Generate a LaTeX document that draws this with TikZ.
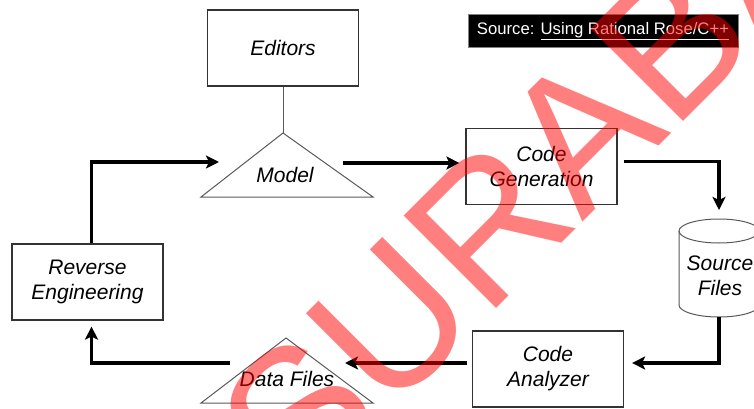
\documentclass[tikz,border=0pt]{standalone}
\usepackage{fontspec}
\setmainfont{Liberation Sans}
\usetikzlibrary{arrows.meta,positioning}

\begin{document}
\begin{tikzpicture}[x=1pt,y=-1pt]
\useasboundingbox (0,0) rectangle (754,409);

\begin{scope}[every node/.style={rectangle,draw=black!80,line width=1.2pt,
              minimum width=151pt,minimum height=76pt,align=center,
              font=\itshape\fontsize{21}{25}\selectfont}]
    \node (editors) at (283,48) {Editors};
    \node (codegen) at (541.5,166.5) {Code\\Generation};
    \node (reveng) at (87.5,282) {Reverse\\Engineering};
    \node (codean) at (548,369) {Code\\Analyzer};
\end{scope}

% triangles and the cylinder
\begin{scope}[draw=black!65,line width=1pt]
    \coordinate (mtop) at (283,133);
    \coordinate (dtop) at (286,338);
    \coordinate (stop) at (719,219);
    \coordinate (sbot) at (719,317);
    \draw (mtop) -- ++(-82,64) -- ++(172,0) -- cycle;
    \draw (dtop) -- ++(-85,65) -- ++(172,0) -- cycle;
    \draw (719,231) ellipse [x radius=40,y radius=12];
    \draw (679,231) -- (679,305) arc [start angle=180,end angle=0,x radius=40,y radius=12] -- (759,231);
    \draw (editors) -- (mtop);
\end{scope}

\begin{scope}[every node/.style={align=center,font=\itshape\fontsize{21}{25}\selectfont}]
    \node (model) at (285,175) {Model};
    \node (datafiles) at (287,379) {Data Files};
    \node (srcfiles) at (720,276) {Source\\Files};
\end{scope}

\node[fill=black,draw=black!50,line width=1pt,text=white,minimum width=270pt,
      minimum height=33pt,font=\fontsize{16.7}{20}\selectfont] (source) at (603,31.5)
      {Source: \underline{Using Rational Rose/C++}};

\begin{scope}[>={Stealth[length=13pt,width=13pt,inset=3pt]},line width=3.6pt]
    \coordinate (min) at (219,162);
    \coordinate (mout) at (343,163);
    \coordinate (din) at (345,363);
    \coordinate (dout) at (230,363);
    \draw[->] ([xshift=4pt]reveng.north) |- (min);
    \draw[->,shorten >=6pt] (mout) -- (codegen.west |- mout);
    \draw[->,shorten >=9pt] ([shift={(6,-5)}]codegen.east) -| (stop);
    \draw[->] (sbot) |- ([shift={(8,-6)}]codean.east);
    \draw[->] ([shift={(-5,-6)}]codean.west) -- (din);
    \draw[->,shorten >=6pt] (dout) -| ([xshift=4pt]reveng.south);
\end{scope}

% watermark
\begin{scope}
    \clip (0,0) rectangle (754,409);
    \node[text=red,text opacity=0.5,rotate=45,anchor=base west,inner sep=0pt,
          font=\fontsize{190}{190}\selectfont] (wmark) at (299,506) {SURABAYA};
\end{scope}
\end{tikzpicture}
\end{document}
